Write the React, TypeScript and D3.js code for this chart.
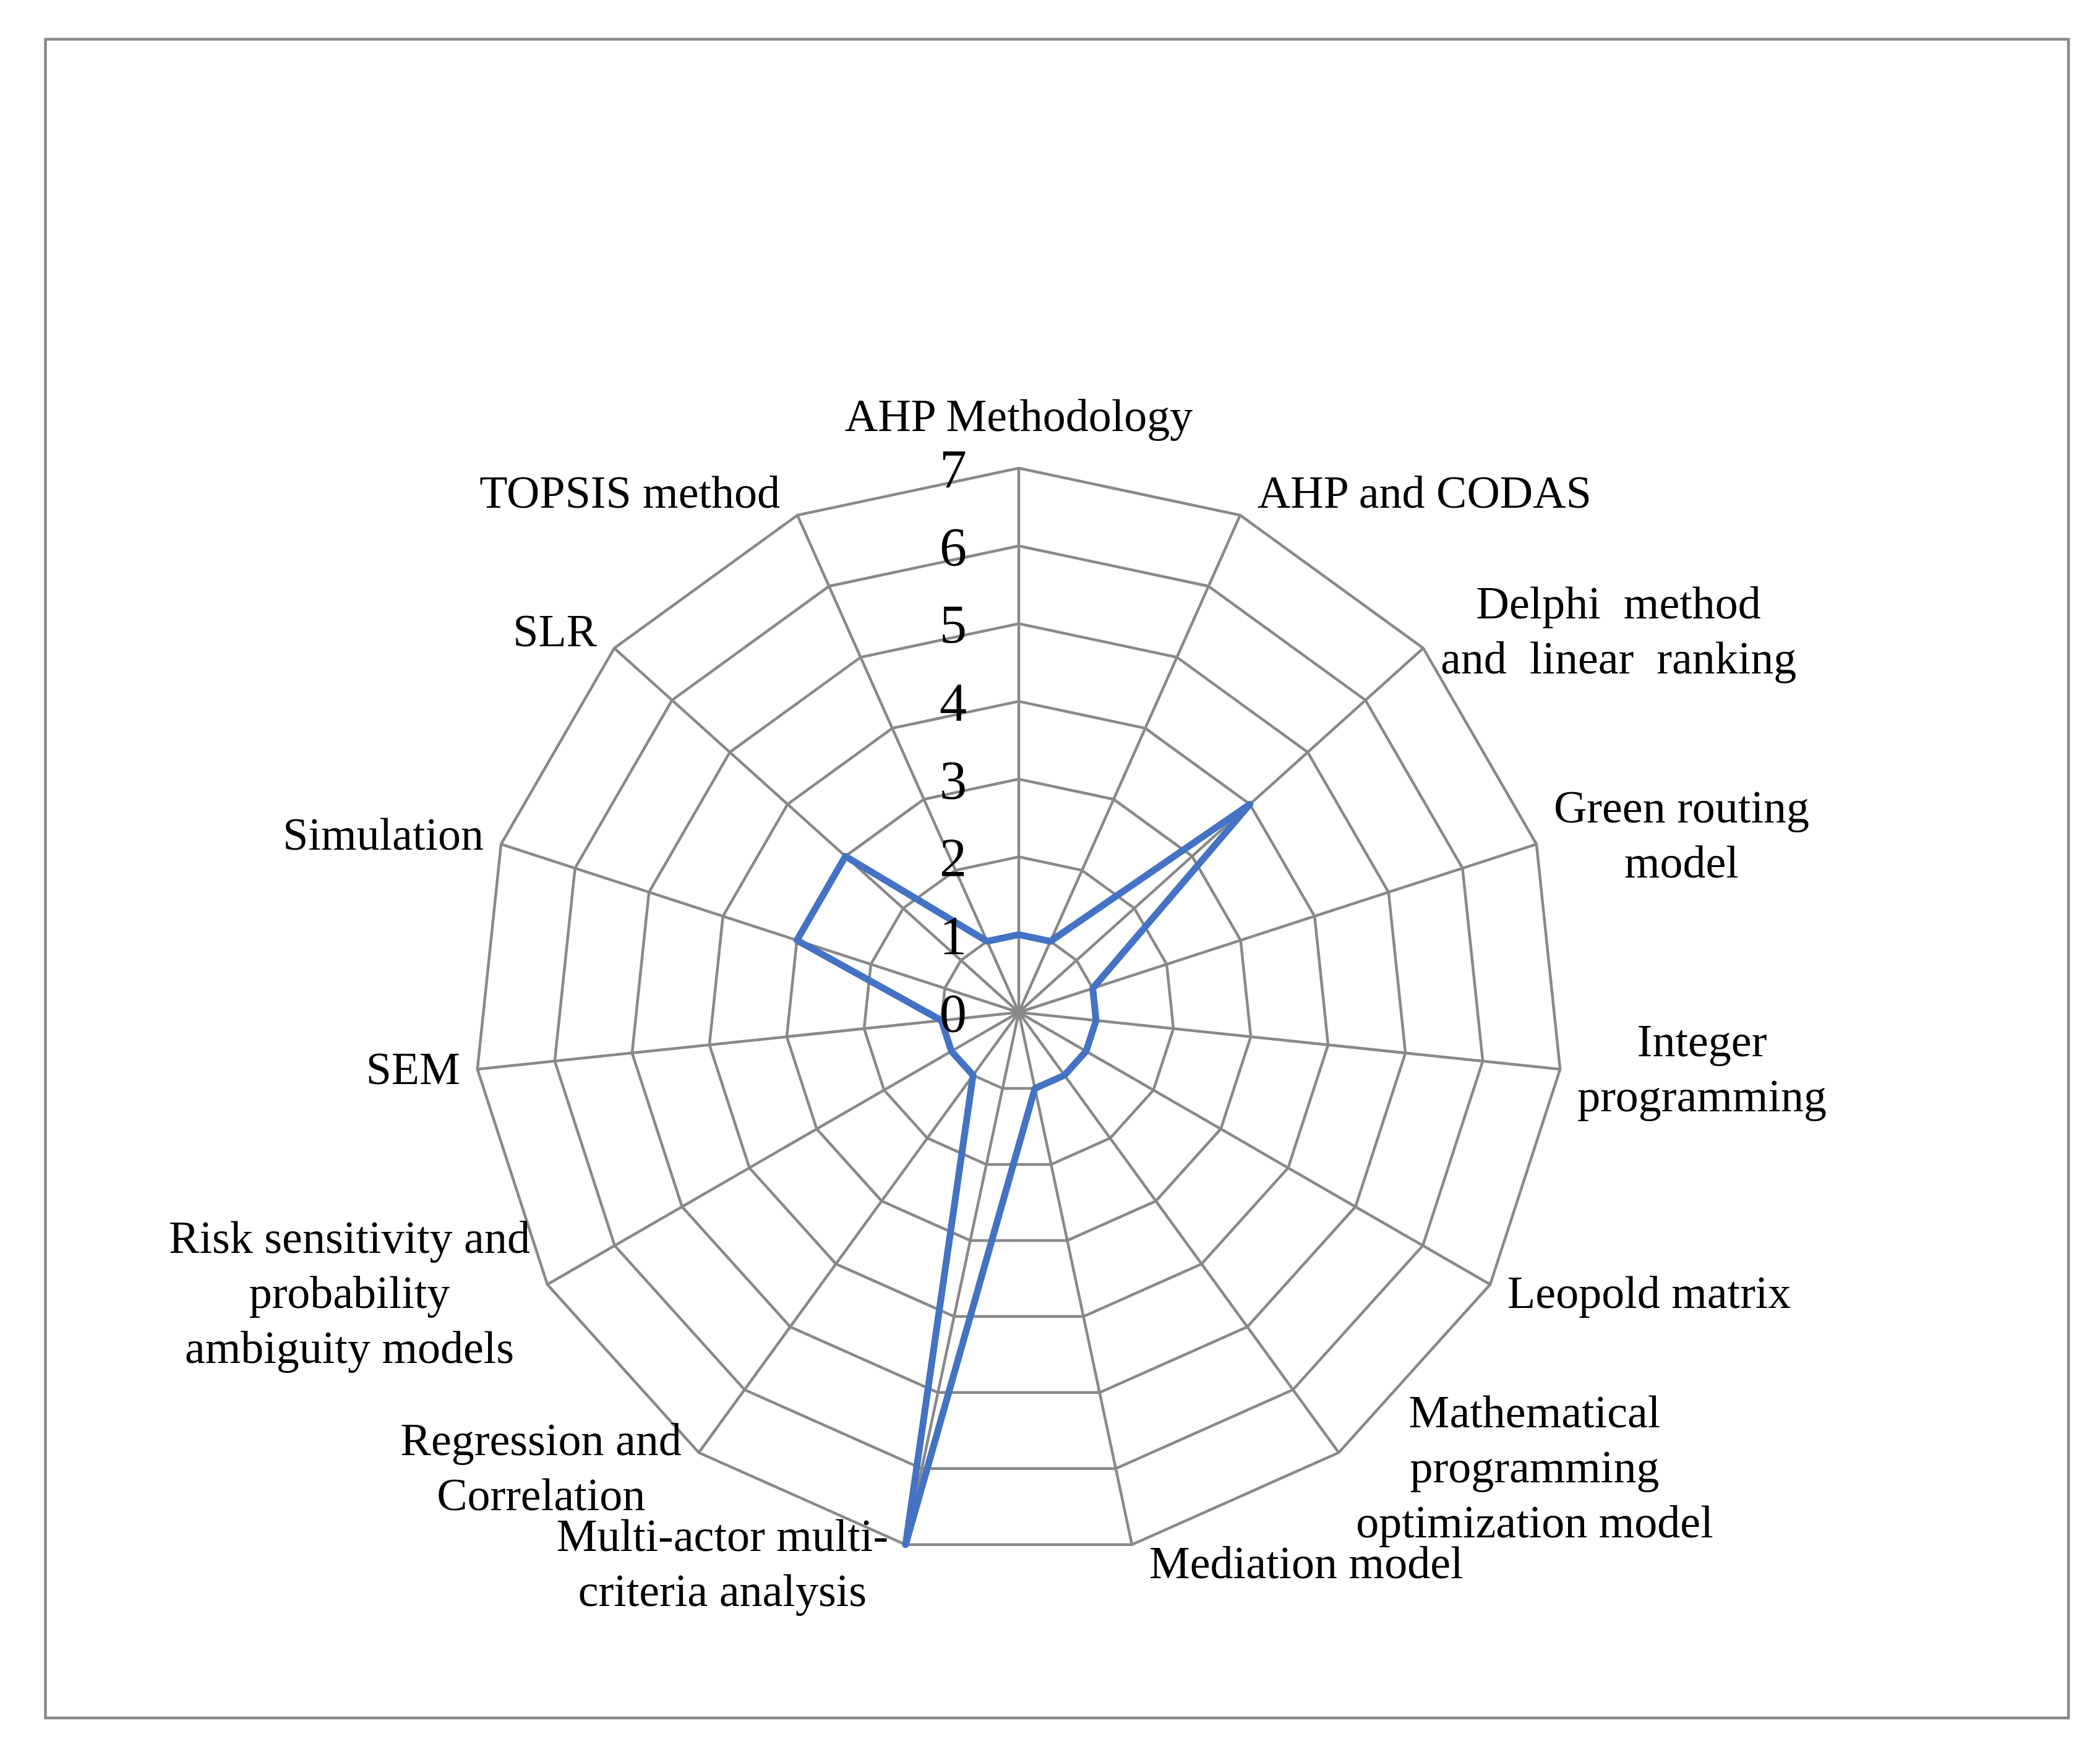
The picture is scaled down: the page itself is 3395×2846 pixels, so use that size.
import { useEffect, useRef } from 'react';
import * as d3 from 'd3';

// one entry per axis, each split into its printed lines
const categories: string[][] = [
  ['AHP Methodology'],
  ['AHP and CODAS'],
  ['Delphi  method', 'and  linear  ranking'],
  ['Green routing', 'model'],
  ['Integer', 'programming'],
  ['Leopold matrix'],
  ['Mathematical', 'programming', 'optimization model'],
  ['Mediation model'],
  ['Multi-actor multi-', 'criteria analysis'],
  ['Regression and', 'Correlation'],
  ['Risk sensitivity and', 'probability', 'ambiguity models'],
  ['SEM'],
  ['Simulation'],
  ['SLR'],
  ['TOPSIS method'],
];

const values = [1, 1, 4, 1, 1, 1, 1, 1, 7, 1, 1, 1, 3, 3, 1];

const ticks = [0, 1, 2, 3, 4, 5, 6, 7];

const WIDTH = 3395;
const HEIGHT = 2846;

export default function App() {
  const svgRef = useRef<SVGSVGElement>(null);

  useEffect(() => {
    if (!svgRef.current) return;
    const svg = d3.select(svgRef.current);
    svg.selectAll('*').remove();

    const cx = 1647;
    const cy = 1637;
    const R = 880;
    const n = categories.length;
    const gridColor = '#898989';
    const font = '"Liberation Serif", "Times New Roman", serif';

    const r = d3.scaleLinear().domain([0, d3.max(ticks) as number]).range([0, R]);
    const angle = d3.scaleLinear().domain([0, n]).range([0, 2 * Math.PI]);

    // outer frame
    svg.append('rect')
      .attr('x', 73.5).attr('y', 63.5)
      .attr('width', 3344 - 73.5).attr('height', 2778 - 63.5)
      .attr('fill', 'none')
      .attr('stroke', gridColor)
      .attr('stroke-width', 4.5);

    const g = svg.append('g').attr('transform', `translate(${cx},${cy})`);

    // rings
    const ring = d3.lineRadial<number>()
      .angle((_, i) => angle(i))
      .radius(d => d)
      .curve(d3.curveLinearClosed);

    g.append('g')
      .selectAll('path')
      .data(ticks.filter(t => t > 0))
      .join('path')
      .attr('d', t => ring(categories.map(() => r(t))))
      .attr('fill', 'none')
      .attr('stroke', gridColor)
      .attr('stroke-width', 4.5);

    // spokes
    g.append('g')
      .selectAll('line')
      .data(categories)
      .join('line')
      .attr('x1', 0).attr('y1', 0)
      .attr('x2', (_, i) => d3.pointRadial(angle(i), R)[0])
      .attr('y2', (_, i) => d3.pointRadial(angle(i), R)[1])
      .attr('stroke', gridColor)
      .attr('stroke-width', 4.5);

    // series
    const line = d3.lineRadial<number>()
      .angle((_, i) => angle(i))
      .radius(d => r(d))
      .curve(d3.curveLinearClosed);

    g.append('path')
      .datum(values)
      .attr('d', line)
      .attr('fill', 'none')
      .attr('stroke', '#4472C4')
      .attr('stroke-width', 11)
      .attr('stroke-linejoin', 'round')
      .attr('stroke-linecap', 'round');

    // category labels
    const fs = 74;
    const lh = 89;
    const gap = 28;
    categories.forEach((lines, i) => {
      const a = angle(i);
      const [vx, vy] = d3.pointRadial(a, R);
      const s = Math.sin(a);
      const c = Math.cos(a);
      const t = g.append('text')
        .attr('font-family', font)
        .attr('font-size', fs)
        .attr('fill', '#000')
        .attr('text-anchor', 'middle')
        .style('white-space', 'pre');
      const spans = lines.map(l => t.append('tspan').text(l));
      const w = d3.max(spans, sp => (sp.node() as SVGTSpanElement).getComputedTextLength()) || 0;

      let x = vx;
      let centerY = vy - c * 35;
      if (Math.abs(s) < 0.1) {
        centerY = vy - 60 - 20 - ((lines.length - 1) / 2) * lh;
      } else if (s > 0) {
        x = vx + gap + w / 2;
      } else {
        x = vx - gap - w / 2;
      }
      spans.forEach((sp, k) => {
        sp.attr('x', x).attr('y', centerY + (k - (lines.length - 1) / 2) * lh + 20);
      });
    });

    // tick labels
    g.append('g')
      .selectAll('text')
      .data(ticks)
      .join('text')
      .attr('x', -84)
      .attr('y', d => -r(d))
      .attr('dy', '0.35em')
      .attr('text-anchor', 'end')
      .attr('font-family', font)
      .attr('font-size', 88)
      .attr('fill', '#000')
      .text(d => d);
  }, []);

  return (
    <svg
      ref={svgRef}
      width={WIDTH}
      height={HEIGHT}
      style={{ position: 'absolute', left: 0, top: 0, background: '#fff' }}
    />
  );
}
